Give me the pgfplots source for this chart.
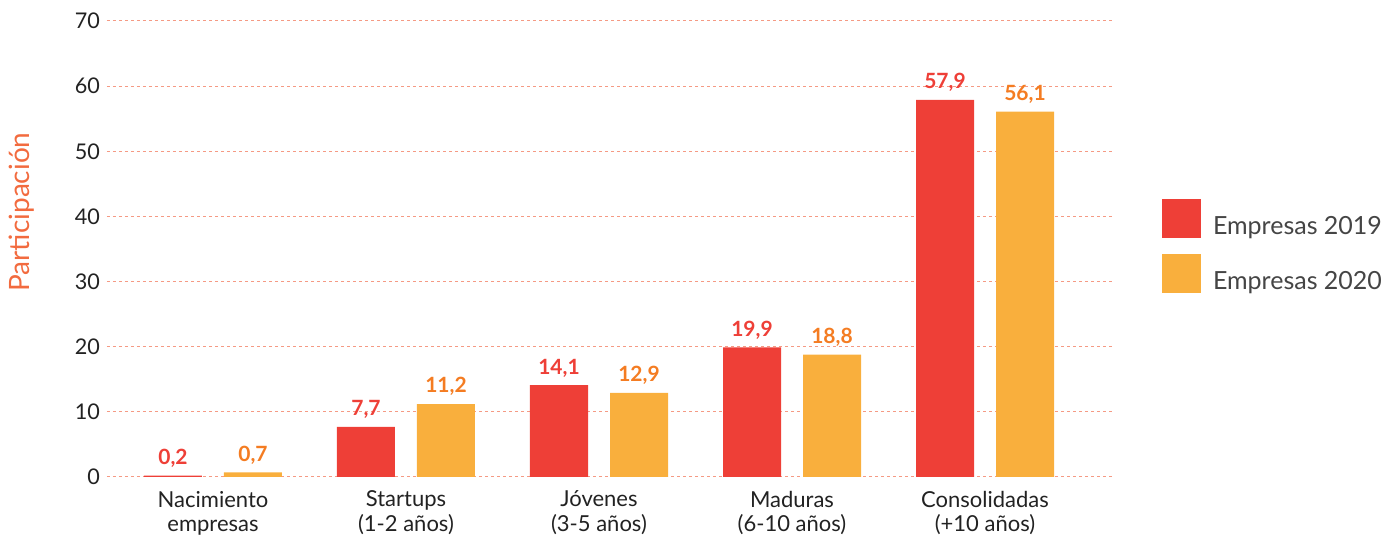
\documentclass[border=0pt]{standalone}
\usepackage{fontspec}
\setmainfont{Lato}
\usepackage{pgfplots}
\pgfplotsset{compat=1.18}
\definecolor{cRed}{HTML}{EE3F37}
\definecolor{cOrg}{HTML}{F9AF3D}
\definecolor{cOrgTxt}{HTML}{F47C22}
\definecolor{cGrid}{HTML}{F59A84}
\definecolor{cLab}{HTML}{F26B3F}
\definecolor{cTxt}{HTML}{222222}
\definecolor{cLeg}{HTML}{454545}
\begin{document}
\begin{tikzpicture}
\begin{axis}[
  scale only axis, width=504pt, height=228pt,
  ybar=11pt, bar width=29pt,
  xmin=-0.5492, xmax=4.6736, ymin=0, ymax=70,
  ytick={0,10,20,30,40,50,60,70},
  xtick={0,1,2,3,4},
  xticklabels={{Nacimiento\\empresas},{Startups\\(1-2 años)},{Jóvenes\\(3-5 años)},{Maduras\\(6-10 años)},{Consolidadas\\(+10 años)}},
  xticklabel style={align=center, font=\fontsize{11}{12}\selectfont, text=cTxt, yshift=-3.5pt},
  yticklabel style={font=\fontsize{10.8}{12}\selectfont, text=cTxt},
  /pgf/number format/assume math mode=true,
  ymajorgrids, grid style={cGrid, dash pattern=on 1.5pt off 1.5pt, line width=0.5pt},
  axis line style={draw=none}, major tick length=0pt,
  ylabel={Participación},
  ylabel style={at={(axis description cs:-0.0843,0.581)}, anchor=center, font=\fontsize{14}{16}\selectfont, text=cLab},
  nodes near coords,
  every node near coord/.append style={/pgf/number format/.cd, use comma, fixed, fixed zerofill, precision=1, assume math mode=true, /tikz/.cd, font=\bfseries\fontsize{10.5}{12}\selectfont, yshift=0.5pt},
  legend style={at={(axis description cs:1,0.6096)}, anchor=north west, xshift=23.5pt, draw=none, fill=none, inner sep=0pt, outer sep=0pt, row sep=8pt, font=\fontsize{12.5}{14}\selectfont, text=cLeg, nodes={inner sep=0pt}, /tikz/every odd column/.append style={column sep=6pt}},
  legend cell align=left,
  legend image code/.code={\fill[#1] (0pt,-5.5pt) rectangle (19.5pt,14pt);},
]
\addplot[fill=cRed, draw=none, nodes near coords style={text=cRed}] coordinates {(0,0.2) (1,7.7) (2,14.1) (3,19.9) (4,57.9)};
\addplot[fill=cOrg, draw=none, nodes near coords style={text=cOrgTxt}] coordinates {(0,0.7) (1,11.2) (2,12.9) (3,18.8) (4,56.1)};
\legend{Empresas 2019, Empresas 2020}
\coordinate (O) at (rel axis cs:0,0);
\coordinate (T) at (rel axis cs:1,1);
\end{axis}
\pgfresetboundingbox
\path ([xshift=-53.5pt,yshift=-30.5pt]O) rectangle ([xshift=137.5pt,yshift=10.5pt]T);
\end{tikzpicture}
\end{document}
